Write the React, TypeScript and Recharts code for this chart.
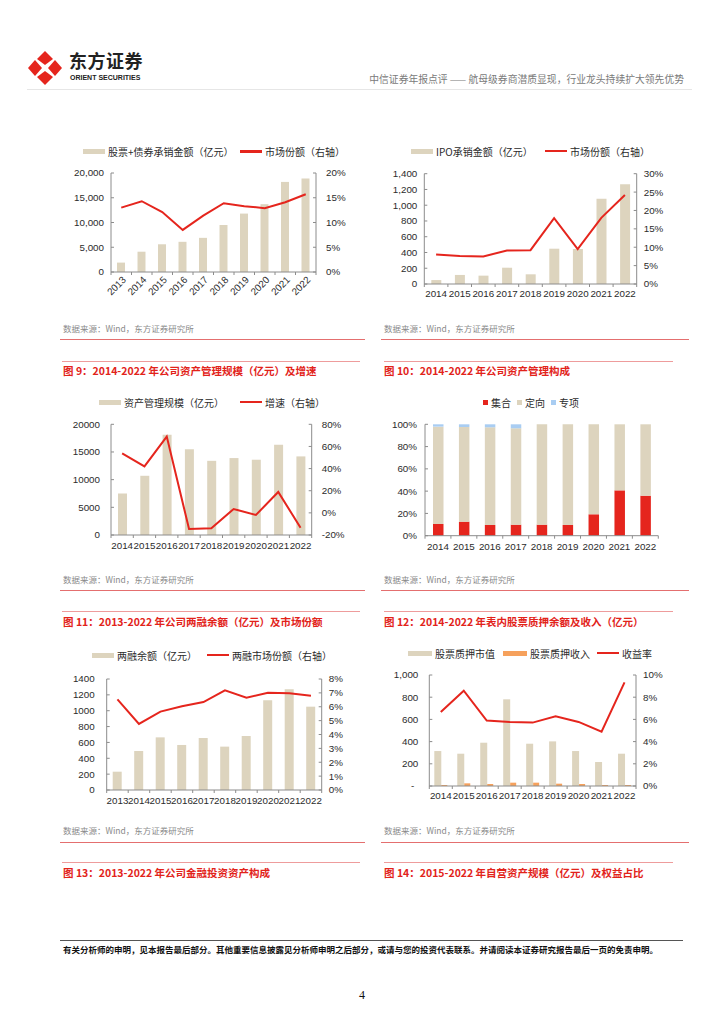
import React from "react";
import { Bar, BarChart, ComposedChart, Line, XAxis, YAxis } from "recharts";

// ---- data ----
const years13 = ["2013", "2014", "2015", "2016", "2017", "2018", "2019", "2020", "2021", "2022"];
const years14 = ["2014", "2015", "2016", "2017", "2018", "2019", "2020", "2021", "2022"];

const underwritingAmount = [1900, 4100, 5600, 6100, 6900, 9500, 11800, 13700, 18200, 18900];
const underwritingShare = [13.0, 14.3, 12.1, 8.5, 11.4, 13.9, 13.3, 12.9, 14.1, 15.7];

const ipoAmount = [50, 115, 106, 207, 123, 448, 444, 1083, 1265];
const ipoShare = [8.0, 7.6, 7.5, 9.1, 9.2, 17.9, 9.5, 18.0, 24.2];

const amScale = [7500, 10700, 18100, 15500, 13400, 13900, 13600, 16300, 14200];
const amGrowth = [53.8, 42.0, 68.9, -14.6, -14.0, 3.5, -1.9, 18.9, -13.4];

const amCollective = [10.5, 12.6, 9.6, 9.9, 9.9, 9.6, 19.2, 40.7, 35.9];
const amTargeted = [87.4, 85.0, 87.7, 86.5, 90.1, 90.4, 80.8, 59.3, 64.1];
const amSpecial = [2.1, 2.4, 2.7, 3.6, 0, 0, 0, 0, 0];

const marginBalance = [231, 492, 664, 568, 656, 547, 681, 1131, 1270, 1051];
const marginShare = [6.53, 4.76, 5.65, 6.03, 6.34, 7.18, 6.65, 7.01, 6.97, 6.8];

const pledgeValue = [315, 291, 390, 781, 381, 402, 315, 216, 291];
const pledgeIncome = [9, 24, 18, 30, 30, 21, 18, 9, 9];
const pledgeYield = [6.67, 8.59, 5.89, 5.77, 5.71, 6.28, 5.77, 4.89, 9.34];

const ticks20k = [0, 5000, 10000, 15000, 20000];
const ticks1400 = [0, 200, 400, 600, 800, 1000, 1200, 1400];
const ticks1000 = [0, 200, 400, 600, 800, 1000];
const pct20 = [0, 5, 10, 15, 20];
const pct30 = [0, 5, 10, 15, 20, 25, 30];
const pctGrowth = [-20, 0, 20, 40, 60, 80];
const pct100 = [0, 20, 40, 60, 80, 100];
const pct8 = [0, 1, 2, 3, 4, 5, 6, 7, 8];
const pct10 = [0, 2, 4, 6, 8, 10];

// ---- styles ----
const FONT = "'Liberation Sans', Arial, 'Noto Sans CJK SC', sans-serif";
const CJK = "'Noto Sans CJK SC', 'Liberation Sans', sans-serif";
const BEIGE = "#DDD4BE";
const RED = "#E5251D";
const ORANGE = "#F6A15C";
const BLUE = "#A9CDF2";
const AXIS = "#8C8C8C";
const TEXT = "#2B2B2B";
const TICK_FS = 9.8;

const comma = (v: number) => v.toLocaleString("en-US");
const plain = (v: number) => String(v);
const pct = (v: number) => `${v}%`;

const yTick = (side: "left" | "right", m: number, fmt: (v: number) => string) => (p: any) => {
  const { x, y, payload } = p;
  const ax = side === "left" ? x + m : x - m;
  const dir = side === "left" ? 1 : -1;
  const label = fmt(payload.value);
  const shift = label === "-" ? -4 : 0;
  return (
    <g>
      <line x1={ax} x2={ax + dir * 3} y1={y} y2={y} stroke={AXIS} />
      <text
        x={x + shift}
        y={y}
        dy="0.35em"
        textAnchor={side === "left" ? "end" : "start"}
        fontSize={TICK_FS}
        fill={TEXT}
        fontFamily={FONT}
      >
        {label}
      </text>
    </g>
  );
};

const xTick = (band: number, m: number, rotate = false) => (p: any) => {
  const { x, y, payload, index } = p;
  const ay = y - m;
  return (
    <g>
      <line x1={x + band / 2} x2={x + band / 2} y1={ay} y2={ay + 3} stroke={AXIS} />
      {index === 0 && <line x1={x - band / 2} x2={x - band / 2} y1={ay} y2={ay + 3} stroke={AXIS} />}
      {rotate ? (
        <text
          transform={`translate(${x + 3},${y}) rotate(-45)`}
          dy="0.35em"
          textAnchor="end"
          fontSize={TICK_FS}
          fill={TEXT}
          fontFamily={FONT}
        >
          {payload.value}
        </text>
      ) : (
        <text x={x} y={y} dy="0.71em" textAnchor="middle" fontSize={TICK_FS} fill={TEXT} fontFamily={FONT}>
          {payload.value}
        </text>
      )}
    </g>
  );
};

const axisLine = { stroke: AXIS };

// ---- legend ----
function Item({
  left,
  top,
  kind,
  color,
  label,
  w = 22,
}: {
  left: number;
  top: number;
  kind: "bar" | "line" | "square";
  color: string;
  label: string;
  w?: number;
}) {
  const sw =
    kind === "bar"
      ? { width: w, height: 5 }
      : kind === "line"
      ? { width: w, height: 2.5 }
      : { width: 5, height: 5 };
  return (
    <div
      style={{
        position: "absolute",
        left,
        top: top - 7,
        height: 14,
        display: "flex",
        alignItems: "center",
        gap: 3,
        fontFamily: CJK,
        fontSize: 10,
        color: TEXT,
        whiteSpace: "nowrap",
      }}
    >
      <span style={{ display: "inline-block", background: color, ...sw }} />
      <span>{label}</span>
    </div>
  );
}

function Box({ left, top, children }: { left: number; top: number; children: React.ReactNode }) {
  return <div style={{ position: "absolute", left, top }}>{children}</div>;
}

// ---- charts ----
function UnderwritingChart() {
  const data = years13.map((year, i) => ({ year, amount: underwritingAmount[i], share: underwritingShare[i] }));
  return (
    <ComposedChart width={310} height={170} data={data} margin={{ top: 33, right: 0, bottom: 0, left: 0 }}>
      <XAxis dataKey="year" height={38} axisLine={axisLine} tickLine={false} tickSize={0} tickMargin={6} interval={0} tick={xTick(20.5, 6, true)} />
      <YAxis yAxisId="l" width={71} domain={[0, 20000]} ticks={ticks20k} interval={0} axisLine={axisLine} tickLine={false} tickSize={0} tickMargin={7} tick={yTick("left", 7, comma)} />
      <YAxis yAxisId="r" orientation="right" width={34} domain={[0, 20]} ticks={pct20} interval={0} axisLine={axisLine} tickLine={false} tickSize={0} tickMargin={10} tick={yTick("right", 10, pct)} />
      <Bar yAxisId="l" dataKey="amount" fill={BEIGE} barSize={8} isAnimationActive={false} />
      <Line yAxisId="r" type="linear" dataKey="share" stroke={RED} strokeWidth={2} dot={false} isAnimationActive={false} />
    </ComposedChart>
  );
}

function IpoChart() {
  const data = years14.map((year, i) => ({ year, amount: ipoAmount[i], share: ipoShare[i] }));
  return (
    <ComposedChart width={300} height={165} data={data} margin={{ top: 33.7, right: 0, bottom: 0, left: 0 }}>
      <XAxis dataKey="year" height={21} axisLine={axisLine} tickLine={false} tickSize={0} tickMargin={6} interval={0} tick={xTick(23.6, 6)} />
      <YAxis yAxisId="l" width={44.3} domain={[0, 1400]} ticks={ticks1400} interval={0} axisLine={axisLine} tickLine={false} tickSize={0} tickMargin={7} tick={yTick("left", 7, comma)} />
      <YAxis yAxisId="r" orientation="right" width={43.3} domain={[0, 30]} ticks={pct30} interval={0} axisLine={axisLine} tickLine={false} tickSize={0} tickMargin={7} tick={yTick("right", 7, pct)} />
      <Bar yAxisId="l" dataKey="amount" fill={BEIGE} barSize={10} isAnimationActive={false} />
      <Line yAxisId="r" type="linear" dataKey="share" stroke={RED} strokeWidth={2} dot={false} isAnimationActive={false} />
    </ComposedChart>
  );
}

function AssetMgmtChart() {
  const data = years14.map((year, i) => ({ year, scale: amScale[i], growth: amGrowth[i] }));
  return (
    <ComposedChart width={310} height={170} data={data} margin={{ top: 34.3, right: 0, bottom: 0, left: 0 }}>
      <XAxis dataKey="year" height={25} axisLine={axisLine} tickLine={false} tickSize={0} tickMargin={7} interval={0} tick={xTick(22.3, 7)} />
      <YAxis yAxisId="l" width={71} domain={[0, 20000]} ticks={ticks20k} interval={0} axisLine={axisLine} tickLine={false} tickSize={0} tickMargin={11} tick={yTick("left", 11, plain)} />
      <YAxis yAxisId="r" orientation="right" width={38.3} domain={[-20, 80]} ticks={pctGrowth} interval={0} axisLine={axisLine} tickLine={false} tickSize={0} tickMargin={10} tick={yTick("right", 10, pct)} />
      <Bar yAxisId="l" dataKey="scale" fill={BEIGE} barSize={9} isAnimationActive={false} />
      <Line yAxisId="r" type="linear" dataKey="growth" stroke={RED} strokeWidth={2} dot={false} isAnimationActive={false} />
    </ComposedChart>
  );
}

function AssetMixChart() {
  const data = years14.map((year, i) => ({
    year,
    collective: amCollective[i],
    targeted: amTargeted[i],
    special: amSpecial[i],
  }));
  return (
    <BarChart width={300} height={170} data={data} margin={{ top: 34.3, right: 21.7, bottom: 0, left: 0 }}>
      <XAxis dataKey="year" height={24.3} axisLine={axisLine} tickLine={false} tickSize={0} tickMargin={7} interval={0} tick={xTick(25.9, 7)} />
      <YAxis width={45} domain={[0, 100]} ticks={pct100} interval={0} axisLine={axisLine} tickLine={false} tickSize={0} tickMargin={8} tick={yTick("left", 8, pct)} />
      <Bar dataKey="collective" stackId="a" fill={RED} barSize={10.5} isAnimationActive={false} />
      <Bar dataKey="targeted" stackId="a" fill={BEIGE} barSize={10.5} isAnimationActive={false} />
      <Bar dataKey="special" stackId="a" fill={BLUE} barSize={10.5} isAnimationActive={false} />
    </BarChart>
  );
}

function MarginChart() {
  const data = years13.map((year, i) => ({ year, balance: marginBalance[i], share: marginShare[i] }));
  return (
    <ComposedChart width={310} height={165} data={data} margin={{ top: 34, right: 0, bottom: 0, left: 0 }}>
      <XAxis dataKey="year" height={20} axisLine={axisLine} tickLine={false} tickSize={0} tickMargin={7} interval={0} tick={xTick(21.5, 7)} />
      <YAxis yAxisId="l" width={66.7} domain={[0, 1400]} ticks={ticks1400} interval={0} axisLine={axisLine} tickLine={false} tickSize={0} tickMargin={12} tick={yTick("left", 12, plain)} />
      <YAxis yAxisId="r" orientation="right" width={28.3} domain={[0, 8]} ticks={pct8} interval={0} axisLine={axisLine} tickLine={false} tickSize={0} tickMargin={7} tick={yTick("right", 7, pct)} />
      <Bar yAxisId="l" dataKey="balance" fill={BEIGE} barSize={9} isAnimationActive={false} />
      <Line yAxisId="r" type="linear" dataKey="share" stroke={RED} strokeWidth={2} dot={false} isAnimationActive={false} />
    </ComposedChart>
  );
}

function PledgeChart() {
  const data = years14.map((year, i) => ({
    year,
    value: pledgeValue[i],
    income: pledgeIncome[i],
    rate: pledgeYield[i],
  }));
  return (
    <ComposedChart width={300} height={160} data={data} barGap={0} margin={{ top: 30, right: 0, bottom: 0, left: 0 }}>
      <XAxis dataKey="year" height={19} axisLine={axisLine} tickLine={false} tickSize={0} tickMargin={6} interval={0} tick={xTick(23, 6)} />
      <YAxis yAxisId="l" width={49.3} domain={[0, 1000]} ticks={ticks1000} interval={0} axisLine={axisLine} tickLine={false} tickSize={0} tickMargin={11} tick={yTick("left", 11, (v) => (v === 0 ? "-" : comma(v)))} />
      <YAxis yAxisId="r" orientation="right" width={44} domain={[0, 10]} ticks={pct10} interval={0} axisLine={axisLine} tickLine={false} tickSize={0} tickMargin={7} tick={yTick("right", 7, pct)} />
      <Bar yAxisId="l" dataKey="value" fill={BEIGE} barSize={7} isAnimationActive={false} />
      <Bar yAxisId="l" dataKey="income" fill={ORANGE} barSize={6} isAnimationActive={false} />
      <Line yAxisId="r" type="linear" dataKey="rate" stroke={RED} strokeWidth={2} dot={false} isAnimationActive={false} />
    </ComposedChart>
  );
}

// ---- page furniture ----
function Rule({ left, right, top, color, h = 1.3 }: { left: number; right: number; top: number; color: string; h?: number }) {
  return <div style={{ position: "absolute", left, top, width: right - left, height: h, background: color }} />;
}

function Source({ left, top }: { left: number; top: number }) {
  return (
    <div style={{ position: "absolute", left, top: top - 6, lineHeight: "12px", fontSize: 8.5, color: "#8A8A8A", fontFamily: CJK }}>
      数据来源：Wind，东方证券研究所
    </div>
  );
}

function Title({ left, top, text }: { left: number; top: number; text: string }) {
  return (
    <div
      style={{
        position: "absolute",
        left,
        top: top - 8,
        lineHeight: "16px",
        fontSize: 10.5,
        fontWeight: 700,
        color: "#E2231A",
        fontFamily: CJK,
        whiteSpace: "nowrap",
      }}
    >
      {text}
    </div>
  );
}

function Logo() {
  return (
    <>
      <svg style={{ position: "absolute", left: 27, top: 50 }} width={36} height={36} viewBox="0 0 36 36">
        <polygon points="18,1 26,9 18,15 10,9" fill={RED} />
        <polygon points="18,35 26,27 18,21 10,27" fill={RED} />
        <polygon points="1,18 8,10 15,18 8,26" fill={RED} />
        <polygon points="35,18 28,10 21,18 28,26" fill={RED} />
      </svg>
      <div style={{ position: "absolute", left: 69, top: 50, fontSize: 18, fontWeight: 700, lineHeight: "20px", color: "#222", fontFamily: CJK, letterSpacing: 0.5 }}>
        东方证券
      </div>
      <div style={{ position: "absolute", left: 70, top: 73, fontSize: 7, fontWeight: 700, lineHeight: "9px", color: "#222", fontFamily: FONT }}>
        ORIENT SECURITIES
      </div>
    </>
  );
}

export default function App() {
  const pink = "#EE9C9C";
  const red = "#E46F6F";
  return (
    <div style={{ position: "absolute", left: 0, top: 0, width: 724, height: 1024, background: "#fff", overflow: "hidden" }}>
      <Logo />
      <div
        style={{
          position: "absolute",
          right: 724 - 684,
          top: 72,
          lineHeight: "14px",
          fontSize: 9.8,
          color: "#7A7A7A",
          fontFamily: CJK,
          whiteSpace: "nowrap",
        }}
      >
        中信证券年报点评 —— 航母级券商潜质显现，行业龙头持续扩大领先优势
      </div>
      <Rule left={27} right={692} top={89} color="#E6E6E6" h={1} />

      {/* row 1 */}
      <Item left={83} top={151.5} kind="bar" color={BEIGE} label="股票+债券承销金额（亿元）" />
      <Item left={240} top={151.5} kind="line" color={RED} label="市场份额（右轴）" />
      <Box left={40} top={140}>
        <UnderwritingChart />
      </Box>
      <Item left={411} top={151} kind="bar" color={BEIGE} label="IPO承销金额（亿元）" />
      <Item left={545} top={151} kind="line" color={RED} label="市场份额（右轴）" />
      <Box left={380} top={140}>
        <IpoChart />
      </Box>
      <Source left={63} top={328} />
      <Source left={384} top={328} />
      <Rule left={60} right={365} top={339} color={red} />
      <Rule left={381} right={689} top={339} color={red} />
      <Rule left={62} right={360} top={361} color={pink} />
      <Rule left={384} right={673} top={361} color={pink} />
      <Title left={63} top={371} text="图 9：2014-2022 年公司资产管理规模（亿元）及增速" />
      <Title left={384} top={371} text="图 10：2014-2022 年公司资产管理构成" />

      {/* row 2 */}
      <Item left={99} top={402} kind="bar" color={BEIGE} label="资产管理规模（亿元）" />
      <Item left={240} top={402} kind="line" color={RED} label="增速（右轴）" />
      <Box left={40} top={390}>
        <AssetMgmtChart />
      </Box>
      <Item left={483} top={402} kind="square" color={RED} label="集合" />
      <Item left={517} top={402} kind="square" color={BEIGE} label="定向" />
      <Item left={551} top={402} kind="square" color={BLUE} label="专项" />
      <Box left={380} top={390}>
        <AssetMixChart />
      </Box>
      <Source left={63} top={579} />
      <Source left={384} top={579} />
      <Rule left={60} right={365} top={590} color={red} />
      <Rule left={381} right={689} top={590} color={red} />
      <Rule left={62} right={360} top={611} color={pink} />
      <Rule left={384} right={673} top={611} color={pink} />
      <Title left={63} top={622} text="图 11：2013-2022 年公司两融余额（亿元）及市场份额" />
      <Title left={384} top={622} text="图 12：2014-2022 年表内股票质押余额及收入（亿元）" />

      {/* row 3 */}
      <Item left={92} top={655} kind="bar" color={BEIGE} label="两融余额（亿元）" />
      <Item left={207} top={655} kind="line" color={RED} label="两融市场份额（右轴）" />
      <Box left={40} top={645}>
        <MarginChart />
      </Box>
      <Item left={408} top={653} kind="bar" color={BEIGE} label="股票质押市值" w={24} />
      <Item left={503} top={653} kind="bar" color={ORANGE} label="股票质押收入" w={24} />
      <Item left={597} top={653} kind="line" color={RED} label="收益率" />
      <Box left={380} top={645}>
        <PledgeChart />
      </Box>
      <Source left={63} top={830} />
      <Source left={384} top={830} />
      <Rule left={60} right={365} top={842} color={red} />
      <Rule left={381} right={689} top={842} color={red} />
      <Rule left={62} right={360} top={862} color={pink} />
      <Rule left={384} right={673} top={862} color={pink} />
      <Title left={63} top={873} text="图 13：2013-2022 年公司金融投资资产构成" />
      <Title left={384} top={873} text="图 14：2015-2022 年自营资产规模（亿元）及权益占比" />

      {/* footer */}
      <Rule left={60} right={683} top={940} color="#555" h={1} />
      <div
        style={{
          position: "absolute",
          left: 63,
          top: 943,
          lineHeight: "12px",
          fontSize: 8.5,
          fontWeight: 700,
          color: "#111",
          fontFamily: CJK,
          whiteSpace: "nowrap",
        }}
      >
        有关分析师的申明，见本报告最后部分。其他重要信息披露见分析师申明之后部分，或请与您的投资代表联系。并请阅读本证券研究报告最后一页的免责申明。
      </div>
      <div style={{ position: "absolute", left: 352, width: 20, textAlign: "center", top: 988, fontSize: 12, fontFamily: "'Liberation Serif', serif", color: "#111" }}>
        4
      </div>
    </div>
  );
}
